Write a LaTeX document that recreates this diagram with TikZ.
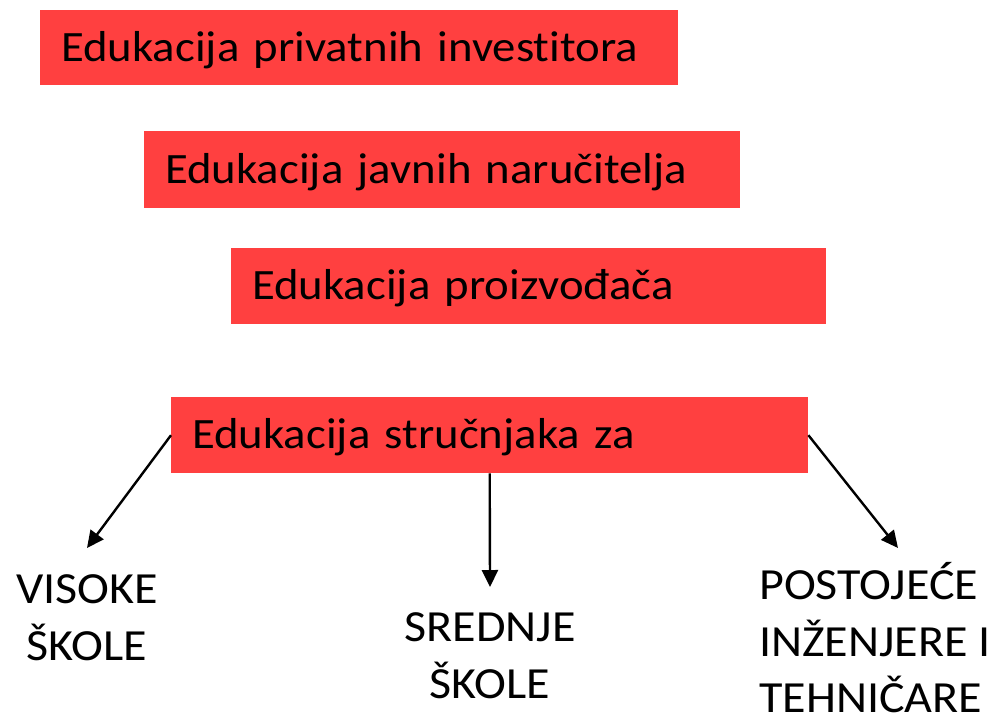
\documentclass[tikz,border=0pt]{standalone}
\usepackage{fontspec}
\setmainfont[FakeStretch=1.08,Ligatures={NoCommon}]{Carlito}
\usetikzlibrary{arrows.meta}
\definecolor{boxred}{HTML}{FF4040}
\begin{document}
\begin{tikzpicture}[x=1pt,y=-1pt,
  redbox/.style={fill=boxred, anchor=north west, inner xsep=21pt, inner ysep=0pt,
    text height=27.4pt, text depth=0pt, align=left, font=\fontsize{43.3}{56}\selectfont},
  lbl/.style={inner sep=0pt, font=\fontsize{44.5}{56.5}\selectfont},
  arr/.style={line width=2.4pt, -{Triangle[length=17pt,width=16pt]}}]
\useasboundingbox (0,0) rectangle (992,721);
\node[redbox, text width=596pt, minimum height=75pt] (b1) at (40,10) {Edukacija privatnih investitora};
\node[redbox, text width=554pt, minimum height=77pt] (b2) at (144,131) {Edukacija javnih naručitelja};
\node[redbox, text width=553pt, minimum height=76pt] (b3) at (231,248) {Edukacija proizvođača};
\node[redbox, text width=595pt, minimum height=76pt] (b4) at (171,397) {Edukacija stručnjaka za};
\node[lbl, align=center, anchor=base] (vs) at (87,660) {VISOKE\\ŠKOLE};
\node[lbl, align=center, anchor=base] (ss) at (490,698) {SREDNJE\\ŠKOLE};
\node[lbl, align=left, anchor=base west] (pi) at (759,712.5) {POSTOJEĆE\\INŽENJERE I\\TEHNIČARE};
\coordinate (e1) at (87,548);
\coordinate (e2) at (490,587);
\coordinate (e3) at (898,548);
\draw[arr] (b4.west) -- (e1);
\draw[arr] (b4.south) -- (e2);
\draw[arr] (b4.east) -- (e3);
\end{tikzpicture}
\end{document}
